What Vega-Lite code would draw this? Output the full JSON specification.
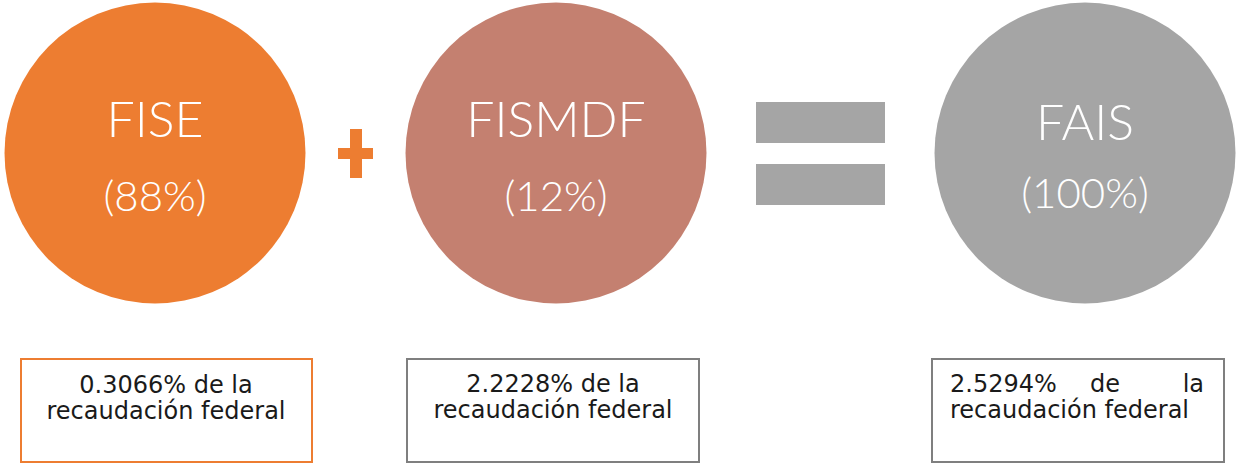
{
  "$schema": "https://vega.github.io/schema/vega-lite/v6.json",
  "width": 1237,
  "height": 464,
  "autosize": {"type": "fit", "contains": "padding"},
  "padding": 0,
  "background": "white",
  "config": {"view": {"stroke": null}},
  "datasets": {
    "fondos": [
      {"fondo": "FISE", "porcentaje": "(88%)", "cx": 155, "cy": 153, "ynombre": 137, "ypct": 211},
      {"fondo": "FISMDF", "porcentaje": "(12%)", "cx": 556, "cy": 153, "ynombre": 137, "ypct": 211},
      {"fondo": "FAIS", "porcentaje": "(100%)", "cx": 1085, "cy": 153, "ynombre": 140, "ypct": 208}
    ],
    "mas": [
      {"x0": 350, "x1": 362, "y0": 129, "y1": 178},
      {"x0": 338, "x1": 373, "y0": 148, "y1": 159}
    ],
    "igual": [
      {"x0": 756, "x1": 885, "y0": 102, "y1": 143},
      {"x0": 756, "x1": 885, "y0": 164, "y1": 205}
    ],
    "cajas": [
      {"fondo": "FISE", "x0": 21, "x1": 312, "y0": 359, "y1": 462},
      {"fondo": "FISMDF", "x0": 407, "x1": 699, "y0": 359, "y1": 462},
      {"fondo": "FAIS", "x0": 932, "x1": 1224, "y0": 359, "y1": 462}
    ],
    "textos": [
      {"texto": "0.3066% de la", "x": 166, "y": 393, "alineacion": "centro"},
      {"texto": "recaudación federal", "x": 166, "y": 419, "alineacion": "centro"},
      {"texto": "2.2228% de la", "x": 553, "y": 392, "alineacion": "centro"},
      {"texto": "recaudación federal", "x": 553, "y": 418, "alineacion": "centro"},
      {"texto": "2.5294%", "x": 950, "y": 392, "alineacion": "izquierda"},
      {"texto": "de", "x": 1105, "y": 392, "alineacion": "centro"},
      {"texto": "la", "x": 1204, "y": 392, "alineacion": "derecha"},
      {"texto": "recaudación federal", "x": 950, "y": 418, "alineacion": "izquierda"}
    ]
  },
  "layer": [
    {
      "data": {"name": "fondos"},
      "mark": {"type": "point", "shape": "circle", "filled": true, "opacity": 1, "size": 90601},
      "encoding": {
        "x": {"field": "cx", "type": "quantitative", "scale": {"domain": [0, 1237], "nice": false, "zero": false}, "axis": null},
        "y": {"field": "cy", "type": "quantitative", "scale": {"domain": [0, 464], "nice": false, "zero": false, "reverse": true}, "axis": null},
        "fill": {"field": "fondo", "type": "nominal", "scale": {"domain": ["FISE", "FISMDF", "FAIS"], "range": ["#ED7D31", "#C48070", "#A5A5A5"]}, "legend": null}
      }
    },
    {
      "data": {"name": "mas"},
      "mark": {"type": "rect", "color": "#ED7D31"},
      "encoding": {
        "x": {"field": "x0", "type": "quantitative"},
        "x2": {"field": "x1"},
        "y": {"field": "y0", "type": "quantitative"},
        "y2": {"field": "y1"}
      }
    },
    {
      "data": {"name": "igual"},
      "mark": {"type": "rect", "color": "#A5A5A5"},
      "encoding": {
        "x": {"field": "x0", "type": "quantitative"},
        "x2": {"field": "x1"},
        "y": {"field": "y0", "type": "quantitative"},
        "y2": {"field": "y1"}
      }
    },
    {
      "data": {"name": "fondos"},
      "mark": {"type": "text", "font": "Lato", "fontWeight": 300, "fontSize": 50, "color": "white", "align": "center", "baseline": "alphabetic"},
      "encoding": {
        "x": {"field": "cx", "type": "quantitative"},
        "y": {"field": "ynombre", "type": "quantitative"},
        "text": {"field": "fondo"}
      }
    },
    {
      "data": {"name": "fondos"},
      "mark": {"type": "text", "font": "Lato", "fontWeight": 300, "fontSize": 42, "color": "white", "align": "center", "baseline": "alphabetic"},
      "encoding": {
        "x": {"field": "cx", "type": "quantitative"},
        "y": {"field": "ypct", "type": "quantitative"},
        "text": {"field": "porcentaje"}
      }
    },
    {
      "data": {"name": "cajas"},
      "mark": {"type": "rect", "fill": "white", "strokeWidth": 2},
      "encoding": {
        "x": {"field": "x0", "type": "quantitative"},
        "x2": {"field": "x1"},
        "y": {"field": "y0", "type": "quantitative"},
        "y2": {"field": "y1"},
        "stroke": {"field": "fondo", "type": "nominal", "scale": {"domain": ["FISE", "FISMDF", "FAIS"], "range": ["#ED7D31", "#7F7F7F", "#7F7F7F"]}, "legend": null}
      }
    },
    {
      "data": {"name": "textos"},
      "transform": [{"filter": "datum.alineacion === 'centro'"}],
      "mark": {"type": "text", "font": "DejaVu Sans", "fontSize": 24, "color": "#1a1a1a", "align": "center", "baseline": "alphabetic"},
      "encoding": {
        "x": {"field": "x", "type": "quantitative"},
        "y": {"field": "y", "type": "quantitative"},
        "text": {"field": "texto"}
      }
    },
    {
      "data": {"name": "textos"},
      "transform": [{"filter": "datum.alineacion === 'izquierda'"}],
      "mark": {"type": "text", "font": "DejaVu Sans", "fontSize": 24, "color": "#1a1a1a", "align": "left", "baseline": "alphabetic"},
      "encoding": {
        "x": {"field": "x", "type": "quantitative"},
        "y": {"field": "y", "type": "quantitative"},
        "text": {"field": "texto"}
      }
    },
    {
      "data": {"name": "textos"},
      "transform": [{"filter": "datum.alineacion === 'derecha'"}],
      "mark": {"type": "text", "font": "DejaVu Sans", "fontSize": 24, "color": "#1a1a1a", "align": "right", "baseline": "alphabetic"},
      "encoding": {
        "x": {"field": "x", "type": "quantitative"},
        "y": {"field": "y", "type": "quantitative"},
        "text": {"field": "texto"}
      }
    }
  ]
}
